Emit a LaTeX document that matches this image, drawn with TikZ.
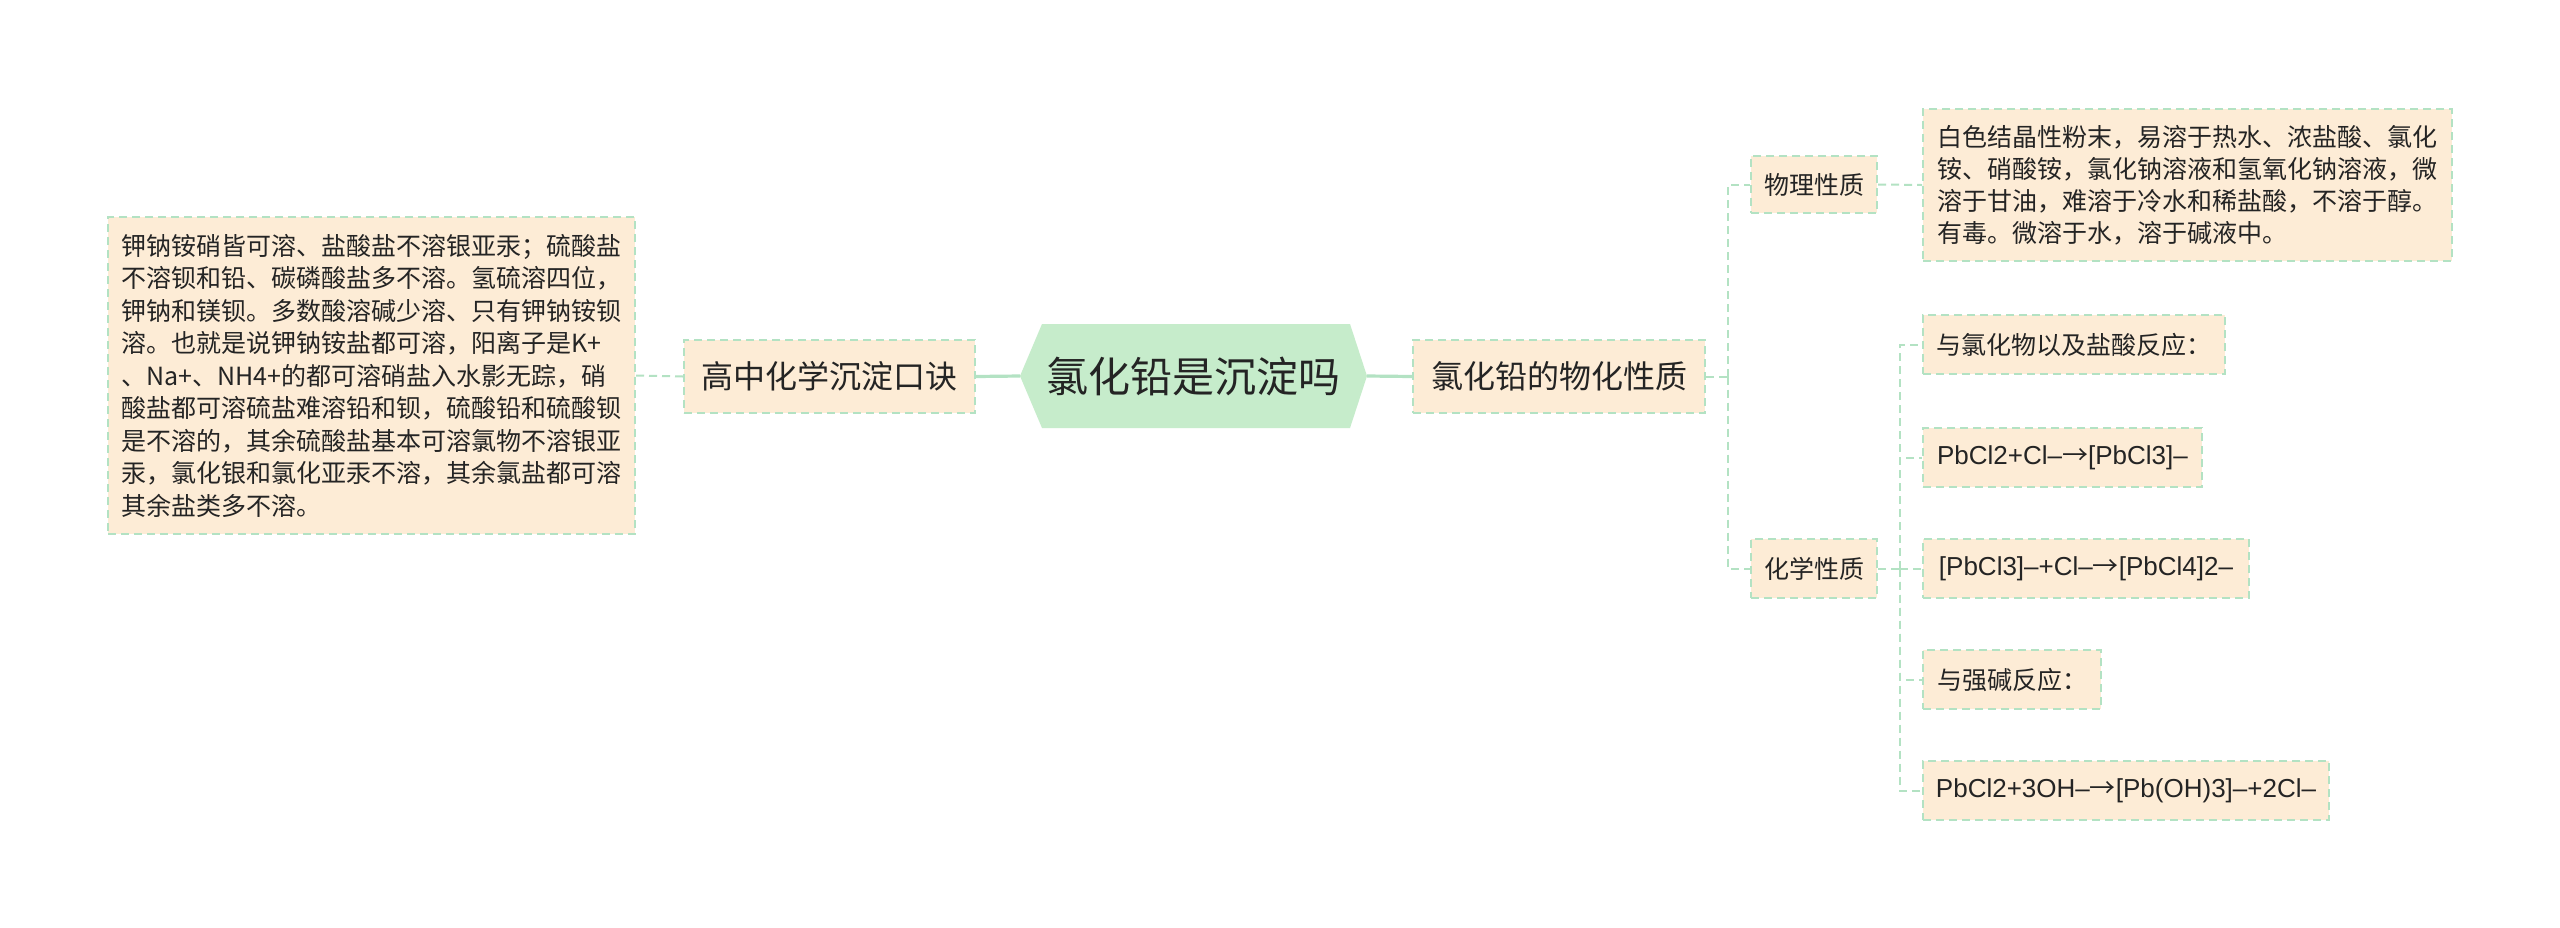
\documentclass[tikz,border=0pt]{standalone}
\usepackage{fontspec}
\setmainfont{Noto Sans CJK SC}
\newfontfamily\lat{Liberation Sans}
\newfontfamily\cjkf{Noto Sans CJK SC}
\newcommand\rarr{{\cjkf →}}
\definecolor{boxfill}{HTML}{FDECD6}
\definecolor{edgec}{HTML}{B3E2C3}
\definecolor{centerfill}{HTML}{C6ECCB}
\definecolor{txt}{HTML}{242424}
\begin{document}
\begin{tikzpicture}[x=0.5pt,y=-0.5pt,
  box/.style={draw=edgec, fill=boxfill, line width=1pt, dash pattern=on 4pt off 2.5pt,
    text=txt, inner sep=0pt, font=\fontsize{12.5}{16.25}\selectfont},
  bigbox/.style={box, font=\fontsize{16}{19}\selectfont},
  leaf/.style={box, minimum height=29.5pt, anchor=west},
  formula/.style={leaf, font=\lat\fontsize{13}{16}\selectfont},
  link/.style={draw=edgec, line width=1pt, dash pattern=on 4pt off 2.5pt},
  mainlink/.style={draw=edgec, line width=1.6pt}]
\useasboundingbox (0,0) rectangle (2560,927);
\fill[white] (0,0) rectangle (2560,927);

% central hexagon
\fill[centerfill] (1020,376) -- (1042,324) -- (1350,324) -- (1367,376) -- (1350,428) -- (1042,428) -- cycle;
\node[text=txt, font=\fontsize{21}{24}\selectfont] (C) at (1193.5,376) {氯化铅是沉淀吗};
\coordinate (cL) at (1020,376);
\coordinate (cR) at (1367,376);

% left side
\node[bigbox, minimum width=145.5pt, minimum height=36.5pt] (G) at (829.5,376.5) {高中化学沉淀口诀};
\node[box, minimum width=263.5pt, minimum height=158.5pt, align=left] (L) at (371.5,375.5) {钾钠铵硝皆可溶、盐酸盐不溶银亚汞；硫酸盐\\不溶钡和铅、碳磷酸盐多不溶。氢硫溶四位，\\钾钠和镁钡。多数酸溶碱少溶、只有钾钠铵钡\\溶。也就是说钾钠铵盐都可溶，阳离子是K+\\、Na+、NH4+的都可溶硝盐入水影无踪，硝\\酸盐都可溶硫盐难溶铅和钡，硫酸铅和硫酸钡\\是不溶的，其余硫酸盐基本可溶氯物不溶银亚\\汞，氯化银和氯化亚汞不溶，其余氯盐都可溶\\其余盐类多不溶。};

% right side
\node[bigbox, minimum width=146pt, minimum height=36.5pt] (P) at (1559,376.5) {氯化铅的物化性质};
\node[box, minimum width=63pt, minimum height=28.5pt] (W) at (1814,184.5) {物理性质};
\node[box, minimum width=264.5pt, minimum height=76pt, align=left, font=\fontsize{12.5}{16}\selectfont] (D) at (2187.5,185) {白色结晶性粉末，易溶于热水、浓盐酸、氯化\\铵、硝酸铵，氯化钠溶液和氢氧化钠溶液，微\\溶于甘油，难溶于冷水和稀盐酸，不溶于醇。\\有毒。微溶于水，溶于碱液中。};
\node[box, minimum width=63pt, minimum height=29.5pt] (H) at (1814,568.5) {化学性质};

\node[leaf, minimum width=151pt] (c1) at (1922,344.5) {与氯化物以及盐酸反应：};
\node[formula, minimum width=139.5pt] (c2) at (1922,457.5) {PbCl2+Cl–\rarr[PbCl3]–};
\node[formula, minimum width=163pt] (c3) at (1922,568.5) {[PbCl3]–+Cl–\rarr[PbCl4]2–};
\node[leaf, minimum width=89pt] (c4) at (1922,679.5) {与强碱反应：};
\node[formula, minimum width=203pt] (c5) at (1922,790.5) {PbCl2+3OH–\rarr[Pb(OH)3]–+2Cl–};

\coordinate (t1) at (1728,376.5);
\coordinate (t2) at (1900,568.5);

% connectors
\draw[mainlink] (cL) -- (G.east);
\draw[mainlink] (cR) -- (P.west);
\draw[link] (G.west) -- (L.east);
\draw[link] (P.east) -- (t1);
\draw[link] (t1) |- (W.west);
\draw[link] (t1) |- (H.west);
\draw[link] (W.east) -- (D.west);
\draw[link] (H.east) -- (t2);
\draw[link] (t2) |- (c1.west);
\draw[link] (t2) |- (c2.west);
\draw[link] (t2) |- (c3.west);
\draw[link] (t2) |- (c4.west);
\draw[link] (t2) |- (c5.west);
\end{tikzpicture}
\end{document}
